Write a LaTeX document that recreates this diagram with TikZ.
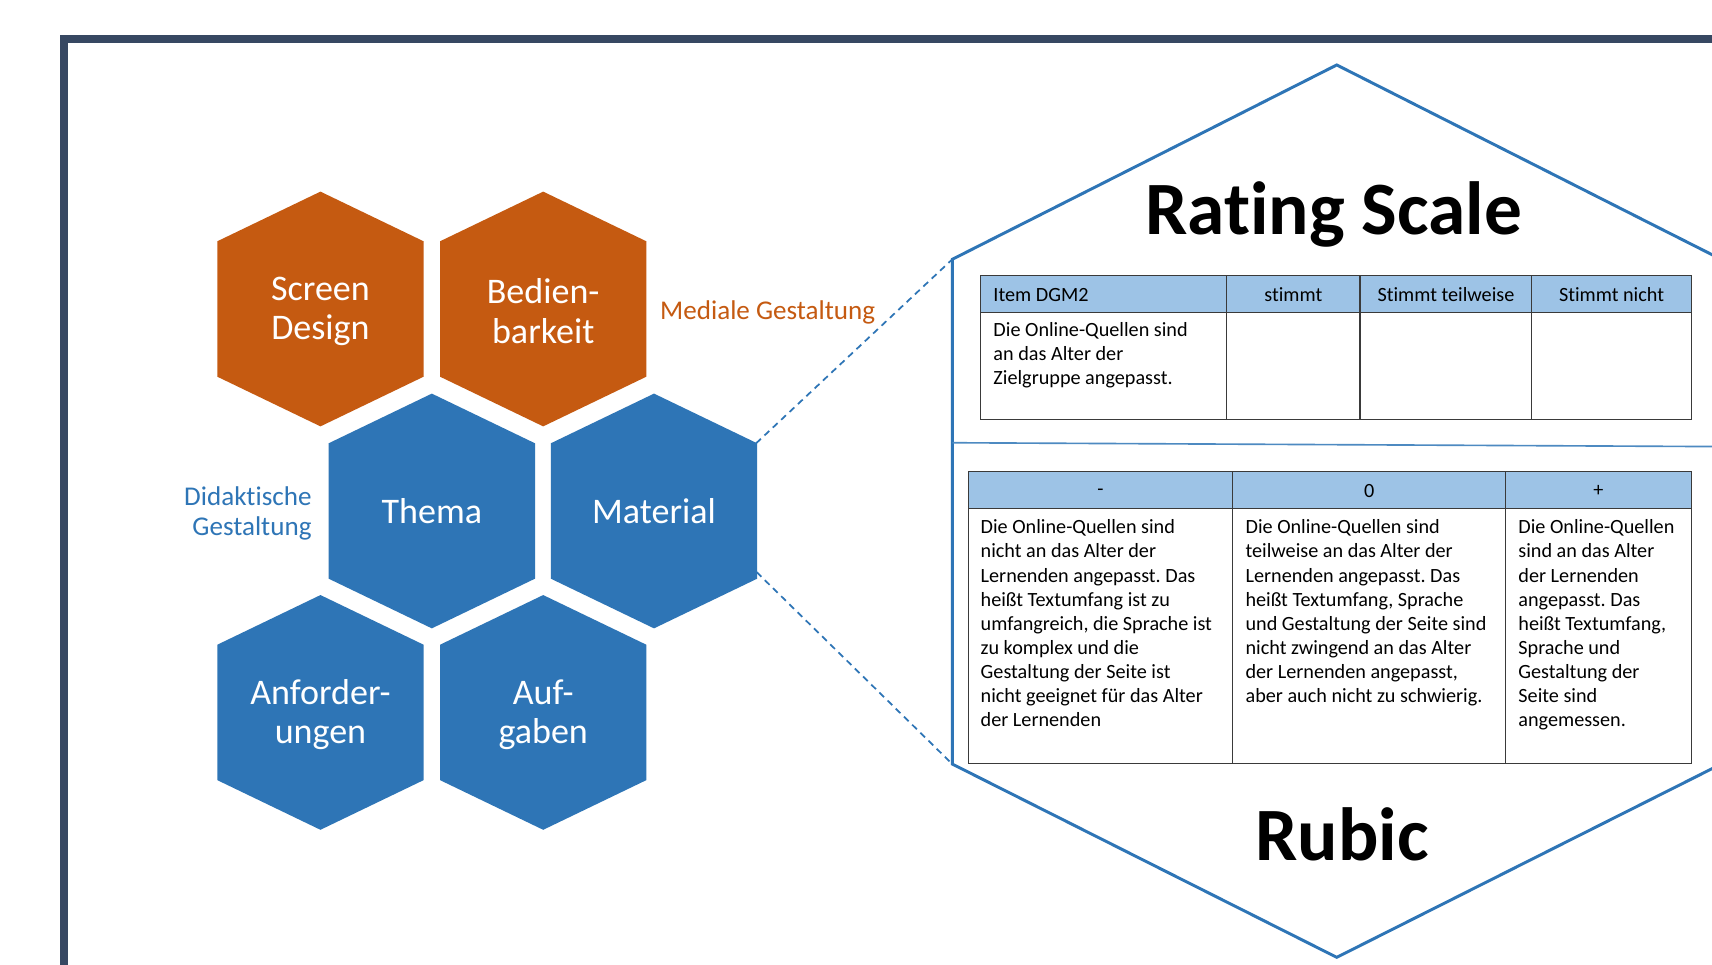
\documentclass[tikz,border=0pt]{standalone}
\usepackage{fontspec}
\setmainfont{Carlito}[Ligatures={NoCommon,NoContextual},Contextuals={NoAlternate}]
\definecolor{frameblue}{HTML}{374862}
\definecolor{hexorange}{HTML}{C55A11}
\definecolor{hexblue}{HTML}{2E75B6}
\definecolor{headblue}{HTML}{9DC3E6}
\definecolor{gridgray}{HTML}{3A3A3A}
\tikzset{
  hexcell/.pic={\path[pic actions] (-94.5,-62) -- (-94.5,62) -- (0,107.5) -- (94.5,62) -- (94.5,-62) -- (0,-107.5) -- cycle;},
  orangehex/.style={fill=hexorange},
  bluehex/.style={fill=hexblue},
  hextext/.style={text=white, align=center, inner sep=0pt, font=\fontsize{33}{36}\selectfont},
  sidelabel/.style={inner sep=0pt, font=\fontsize{24.8}{27.5}\selectfont},
  bigtitle/.style={inner sep=0pt, anchor=base, font=\fontsize{69}{72}\selectfont\bfseries},
  cellhead/.style={inner sep=0pt, font=\fontsize{18.5}{22}\selectfont},
  cellbody/.style={inner sep=0pt, anchor=north west, align=left, font=\fontsize{18.5}{22}\selectfont},
  gridline/.style={draw=gridgray, line width=1.1},
  connector/.style={draw=hexblue, line width=1.6, dash pattern=on 6 off 4.5},
}
\frenchspacing
\begin{document}
\begin{tikzpicture}[x=1pt,y=-1pt]
\useasboundingbox (0,0) rectangle (1568,883);
\clip (0,0) rectangle (1568,883);
\fill[white] (0,0) rectangle (1568,883);
% frame
\draw[frameblue, line width=7.4, line join=miter] (58.7,900) -- (58.7,35.7) -- (1600,35.7);

% honeycomb
\pic[orangehex] at (293.5,283) {hexcell};
\pic[orangehex] at (497.5,283) {hexcell};
\pic[bluehex] at (395.5,468) {hexcell};
\pic[bluehex] at (599,468) {hexcell};
\pic[bluehex] at (293.5,652.5) {hexcell};
\pic[bluehex] at (497.5,652.5) {hexcell};

\node[hextext] (screen) at (293.5,285) {Screen\\Design};
\node[hextext] (bedien) at (497.5,285) {Bedien-\\barkeit};
\node[hextext] (thema) at (395.5,468) {Thema};
\node[hextext] (material) at (599,468) {Material};
\node[hextext] (anford) at (293.5,654.5) {Anforder-\\ungen};
\node[hextext] (aufg) at (497.5,654.5) {Auf-\\gaben};

\node[sidelabel, text=hexorange, anchor=west] (medial) at (604.5,286) {Mediale Gestaltung};
\node[sidelabel, text=hexblue, align=right, anchor=east] (didakt) at (285.5,470.5) {Didaktische\\Gestaltung};

% big outline hexagon
\coordinate (bigN) at (1224.3,59.5);
\coordinate (bigNW) at (872.2,237.5);
\coordinate (bigSW) at (872.2,699.8);
\coordinate (bigS) at (1224.3,876.8);
\coordinate (bigNE) at (1576.4,237.5);
\coordinate (bigSE) at (1576.4,699.8);
\draw[hexblue, line width=2.7, line join=miter] (bigNE) -- (bigN) -- (bigNW) -- (bigSW) -- (bigS) -- (bigSE);
\coordinate (divL) at (872.2,405.5);
\coordinate (divR) at (1568,409);
\draw[hexblue!85, line width=1.5] (divL) -- (divR);

% dashed connectors
\coordinate (matNE) at (692.5,406);
\coordinate (matSE) at (693,524);
\path[connector] (matNE) -- (bigNW);
\path[connector] (matSE) -- (bigSW);

% titles
\node[bigtitle] (rating) at (1221.5,214.6) {Rating Scale};
\node[bigtitle] (rubic) at (1229,787.7) {Rubic};

% table 1
\fill[headblue] (898,252.5) rectangle (1549,286);
\draw[gridline] (898,252.5) rectangle (1549,384);
\draw[gridline] (898,286) -- (1549,286);
\draw[gridline] (1123.5,252.5) -- (1123.5,384);
\draw[gridline] (1245.6,252.5) -- (1245.6,384);
\draw[gridline] (1403,252.5) -- (1403,384);
\node[cellhead, anchor=west] (t1h1) at (909.7,270) {Item DGM2};
\node[cellhead] (t1h2) at (1184.5,270) {stimmt};
\node[cellhead] (t1h3) at (1324.3,270) {Stimmt teilweise};
\node[cellhead] (t1h4) at (1476,270) {Stimmt nicht};
\node[cellbody] (t1b1) at (909.7,295.5) {Die Online-Quellen sind\\an das Alter der\\Zielgruppe angepasst.};

% table 2
\fill[headblue] (887,432) rectangle (1549,465.6);
\draw[gridline] (887,432) rectangle (1549,699);
\draw[gridline] (887,465.6) -- (1549,465.6);
\draw[gridline] (1129,432) -- (1129,699);
\draw[gridline] (1379,432) -- (1379,699);
\node[cellhead] (t2h1) at (1008,451) {-};
\node[cellhead] (t2h2) at (1254,449.5) {0};
\node[cellhead] (t2h3) at (1464,449.5) {+};
\node[cellbody] (t2b1) at (898,476) {Die Online-Quellen sind\\nicht an das Alter der\\Lernenden angepasst. Das\\heißt Textumfang ist zu\\umfangreich, die Sprache ist\\zu komplex und die\\Gestaltung der Seite ist\\nicht geeignet für das Alter\\der Lernenden};
\node[cellbody] (t2b2) at (1140.6,476) {Die Online-Quellen sind\\teilweise an das Alter der\\Lernenden angepasst. Das\\heißt Textumfang, Sprache\\und Gestaltung der Seite sind\\nicht zwingend an das Alter\\der Lernenden angepasst,\\aber auch nicht zu schwierig.};
\node[cellbody] (t2b3) at (1390.5,476) {Die Online-Quellen\\sind an das Alter\\der Lernenden\\angepasst. Das\\heißt Textumfang,\\Sprache und\\Gestaltung der\\Seite sind\\angemessen.};
\end{tikzpicture}
\end{document}
